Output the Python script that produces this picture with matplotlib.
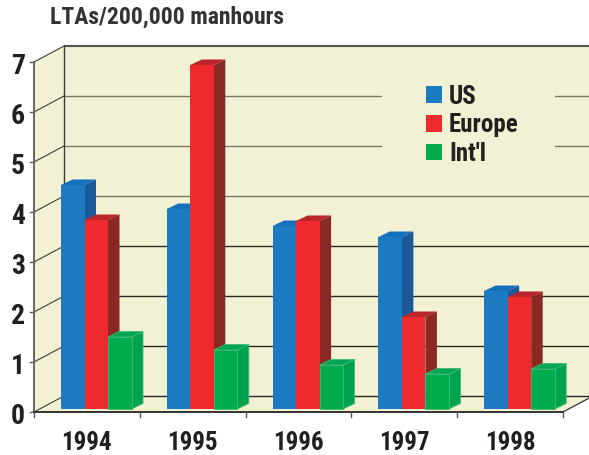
"""3D-look grouped bars of LTA rates, faked with flat polygons on a normal axes."""
import matplotlib
matplotlib.use("Agg")
import matplotlib.pyplot as plt
from matplotlib.patches import Patch, Polygon, Rectangle

years = ["1994", "1995", "1996", "1997", "1998"]
series = ["US", "Europe", "Int'l"]
us = [4.48, 4.0, 3.66, 3.44, 2.36]
europe = [3.78, 6.88, 3.76, 1.84, 2.24]
intl = [1.44, 1.18, 0.88, 0.7, 0.8]
y_ticks = [0, 1, 2, 3, 4, 5, 6, 7]

plt.rcParams["font.family"] = ["Roboto Condensed", "Liberation Sans", "DejaVu Sans"]
plt.rcParams["font.weight"] = "bold"

W, H = 589, 455
X0, Y0 = 34, 412       # pixel position of the front-left floor corner
XU, YU = 105.8, 50     # pixels per category / per unit of y
DX, DY = 30 / XU, 16 / YU   # wall depth, in data units
BX, BY = 11.5 / XU, 5.5 / YU  # bar depth
BW = 23.5 / XU
BAR_START = 27 / XU
BAR_BASE = 3 / YU

WALL = "#F3F1D3"
TEXT = "#231F20"
# front, top, side
BLUE = ("#1C7BC0", "#1570BC", "#1A5A9A")
RED = ("#EE2A2E", "#B9252B", "#8A2823")
GREEN = ("#00AB4E", "#00A651", "#00A34D")

fig = plt.figure(figsize=(W / 100, H / 100), dpi=100, facecolor="white")
ax = fig.add_axes([0, 0, 1, 1])
ax.set_xlim(-X0 / XU, (W - X0) / XU)
ax.set_ylim((Y0 - H) / YU, Y0 / YU)
ax.axis("off")

n = len(years)
top = y_ticks[-1]
x_end = ax.get_xlim()[1]

# walls and floor
ax.add_patch(Rectangle((DX, DY), x_end - DX, top, fc=WALL, ec="none", zorder=1))
ax.add_patch(Polygon([(0, 0), (DX, DY), (DX, DY + top), (0, top)], fc=WALL, ec="none", zorder=1))
ax.add_patch(Polygon([(0, 0), (DX, DY), (n + DX, DY), (n, 0)], fc=WALL, ec="none", zorder=1))

# grid on the back and left walls
for v in y_ticks:
    col = "#55554A" if v == top else "#77776A" if v >= 4 else "#2A2A24"
    lw = 1.5 if v == top else 1.0
    ax.plot([DX, x_end], [DY + v, DY + v], color=col, lw=lw, zorder=2, solid_capstyle="butt")
    ax.plot([0, DX], [v, DY + v], color="#3C3C36", lw=0.8, zorder=2)
    ax.plot([-4 / XU, 0], [v, v], color="#555555", lw=1.0, zorder=2)
    ax.text(-16 / XU, v - 4 / YU, str(v), fontsize=20, color=TEXT, ha="center", va="center", zorder=6)
ax.plot([DX, DX], [DY, DY + top], color="#3C3C36", lw=1.0, zorder=2)
ax.plot([0, 0], [0, top], color="#666666", lw=1.4, zorder=2)
ax.plot([n, n + DX], [0, DY], color="#333333", lw=0.9, zorder=2)
ax.plot([0, n], [0, 0], color="#333333", lw=1.4, zorder=5)
for i in range(n + 1):
    ax.plot([i, i], [0, -5 / YU], color="#555555", lw=1.0, zorder=5)
for i, label in enumerate(years):
    ax.text(i + 0.5, -31 / YU, label, fontsize=18, color=TEXT, ha="center", va="center")

# gap in the grid behind the legend
ax.add_patch(Rectangle(((382 - X0) / XU, (Y0 - 165) / YU), 173 / XU, 90 / YU, fc=WALL, ec="none", zorder=3))


def draw_bar(x, value, colors, z):
    base = BAR_BASE
    y = base + value
    edge = "#3DBB78" if colors is GREEN else "none"
    ax.add_patch(Polygon([(x + BW, base), (x + BW + BX, base + BY), (x + BW + BX, y + BY), (x + BW, y)],
                         fc=colors[2], ec=edge, lw=0.6, zorder=z))
    ax.add_patch(Polygon([(x, y), (x + BX, y + BY), (x + BW + BX, y + BY), (x + BW, y)],
                         fc=colors[1], ec=edge, lw=0.6, zorder=z))
    ax.add_patch(Rectangle((x, base), BW, value, fc=colors[0], ec=edge, lw=0.6, zorder=z))


for i in range(n):
    for j, (vals, colors) in enumerate([(us, BLUE), (europe, RED), (intl, GREEN)]):
        draw_bar(i + BAR_START + j * BW, vals[i], colors, 4)

handles = [Patch(fc=c[0], ec="none") for c in (BLUE, RED, GREEN)]
ax.legend(handles, series, loc="upper left", bbox_to_anchor=(418.5 / W, 1 - 77 / H), frameon=False,
          fontsize=18, labelcolor=TEXT, handlelength=0.64, handleheight=0.64, handletextpad=0.28,
          labelspacing=0.19, borderpad=0.3, borderaxespad=0)

ax.text(50 / XU - X0 / XU, (Y0 - 17) / YU, "LTAs/200,000 manhours", fontsize=17, color="#333333",
        ha="left", va="center")

fig.savefig("out.png", dpi=100)
